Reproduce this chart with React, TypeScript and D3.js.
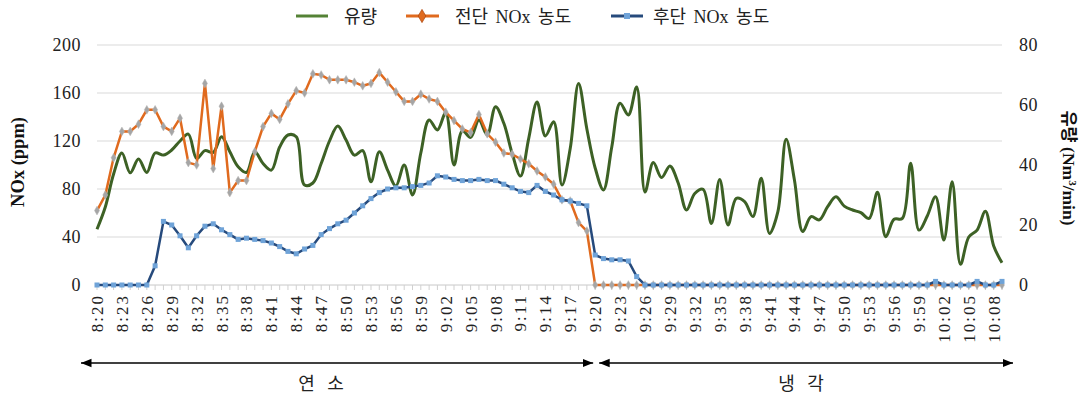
import * as d3 from "d3";
import { useEffect, useRef } from "react";

// time labels, one per minute from 8:20 to 10:09
const times: string[] = d3.range(110).map((i) => {
  const m = 20 + i;
  const h = 8 + Math.floor(m / 60);
  const mm = m % 60;
  return `${h}:${mm < 10 ? "0" + mm : mm}`;
});

// 유량 (Nm3/min), right axis
const flow = [
  18.6, 26, 37, 44, 37.4, 42, 37.5, 44, 43.3, 45,
  48, 50.3, 42.2, 44.8, 44.2, 49.4, 44.4, 39.4, 37.5, 44.4,
  40.5, 38.3, 46, 50, 49.4, 33.3, 34, 40.5, 48, 53,
  48.3, 43.3, 44.8, 34.4, 44.4, 38.3, 33, 40, 30, 44,
  55, 51.7, 57.4, 40, 51.4, 49.2, 55, 50, 59.4, 53.9,
  43.9, 36.3, 48.9, 61, 49.7, 54.4, 33.3, 45.6, 67.2, 52,
  39, 31.7, 46, 60.6, 56.7, 66, 31, 40.8, 35.8, 39.7,
  34, 25, 30.5, 31.9, 20.5, 35.2, 20, 28.9, 27.8, 22.8,
  35.6, 17.2, 24.4, 48.6, 35, 17.8, 22.8, 21.7, 26.1, 29.4,
  26.3, 25, 24.1, 22.2, 30.9, 16.1, 21.9, 22.2, 40.6, 18.3,
  23, 29.4, 15, 34.4, 6.9, 16, 18.3, 24.6, 13, 7.4,
];

// 전단 NOx 농도 (ppm)
const noxFront = [
  62, 75, 106, 128, 128, 134, 146, 146, 132, 128,
  139, 102, 100, 168, 97, 149, 77, 87, 87, 111,
  132, 143, 138, 151, 162, 160, 176, 175, 171, 171,
  171, 169, 166, 168, 177, 169, 161, 153, 153, 159,
  155, 153, 144, 137, 130, 127, 142, 126, 119, 110,
  109, 105, 101, 95, 90, 84, 71, 70, 52, 45,
  0, 0, 0, 0, 0, 0, 0, 0, 0, 0,
  0, 0, 0, 0, 0, 0, 0, 0, 0, 0,
  0, 0, 0, 0, 0, 0, 0, 0, 0, 0,
  0, 0, 0, 0, 0, 0, 0, 0, 0, 0,
  0, 0, 0, 0, 0, 0, 0, 0, 0, 0,
];

// 후단 NOx 농도 (ppm)
const noxRear = [
  0, 0, 0, 0, 0, 0, 0, 16, 53, 50,
  41, 31, 41, 49, 51, 46, 42, 38, 39, 38,
  37, 35, 32, 28, 26, 30, 33, 42, 47, 51,
  54, 60, 66, 72, 77, 80, 81, 81, 82, 83,
  85, 91, 90, 88, 87, 87, 88, 87, 87, 84,
  81, 78, 77, 83, 78, 75, 71, 70, 68, 66,
  25, 22, 21, 21, 20, 7, 0, 0, 0, 0,
  0, 0, 0, 0, 0, 0, 0, 0, 0, 0,
  0, 0, 0, 0, 0, 0, 0, 0, 0, 0,
  0, 0, 0, 0, 0, 0, 0, 0, 0, 0,
  0, 3, 0, 0, 0, 0, 3, 0, 0, 3,
];

const leftTicks = [0, 40, 80, 120, 160, 200];
const rightTicks = [0, 20, 40, 60, 80];

const serif = "'Liberation Serif', 'Noto Sans CJK KR', serif";

export default function App() {
  const svgRef = useRef<SVGSVGElement>(null);
  const width = 1088;
  const height = 409;

  useEffect(() => {
    const svg = d3.select(svgRef.current);
    svg.selectAll("*").remove();

    const x = d3.scalePoint<string>().domain(times).range([97, 1002]);
    const yL = d3.scaleLinear().domain([0, 200]).range([285, 45]);
    const yR = d3.scaleLinear().domain([0, 80]).range([285, 45]);

    // gridlines
    svg.append("g")
      .selectAll("line")
      .data(leftTicks.slice(1))
      .enter()
      .append("line")
      .attr("x1", 97)
      .attr("x2", 1002)
      .attr("y1", (d) => yL(d))
      .attr("y2", (d) => yL(d))
      .attr("stroke", "#d9d9d9")
      .attr("stroke-width", 1);

    // x axis + minor ticks
    svg.append("line")
      .attr("x1", 97).attr("x2", 1002)
      .attr("y1", yL(0)).attr("y2", yL(0))
      .attr("stroke", "#c8c8c8");
    svg.append("g")
      .selectAll("line")
      .data(times)
      .enter()
      .append("line")
      .attr("x1", (d) => x(d)!)
      .attr("x2", (d) => x(d)!)
      .attr("y1", yL(0))
      .attr("y2", yL(0) + 5)
      .attr("stroke", "#d0d0d0");

    // x tick labels, every 3 minutes
    svg.append("g")
      .selectAll("text")
      .data(times.filter((_, i) => i % 3 === 0))
      .enter()
      .append("text")
      .attr("transform", (d) => `translate(${x(d)! + 6},294) rotate(-90)`)
      .attr("text-anchor", "end")
      .attr("font-family", serif)
      .attr("font-size", 17)
      .attr("letter-spacing", 2)
      .attr("fill", "#222")
      .text((d) => d);

    // left ticks
    svg.append("g")
      .selectAll("text")
      .data(leftTicks)
      .enter()
      .append("text")
      .attr("x", 81)
      .attr("y", (d) => yL(d))
      .attr("dy", "0.35em")
      .attr("text-anchor", "end")
      .attr("font-family", serif)
      .attr("font-size", 18)
      .attr("letter-spacing", 0.5)
      .attr("fill", "#222")
      .text((d) => d);

    // right ticks
    svg.append("g")
      .selectAll("text")
      .data(rightTicks)
      .enter()
      .append("text")
      .attr("x", 1019)
      .attr("y", (d) => yR(d))
      .attr("dy", "0.35em")
      .attr("text-anchor", "start")
      .attr("font-family", serif)
      .attr("font-size", 18)
      .attr("letter-spacing", 0.5)
      .attr("fill", "#222")
      .text((d) => d);

    // axis titles
    svg.append("text")
      .attr("transform", "translate(24,162) rotate(-90)")
      .attr("text-anchor", "middle")
      .attr("font-family", serif)
      .attr("font-weight", "bold")
      .attr("font-size", 18.5)
      .attr("fill", "#111")
      .text("NOx (ppm)");

    const rt = svg.append("text")
      .attr("transform", "translate(1063,168) rotate(90)")
      .attr("text-anchor", "middle")
      .attr("font-family", serif)
      .attr("font-weight", "bold")
      .attr("font-size", 17.5)
      .attr("fill", "#111");
    rt.append("tspan").text("유량 (Nm");
    rt.append("tspan").attr("dy", -6).attr("font-size", 11).text("3");
    rt.append("tspan").attr("dy", 6).text("/min)");

    const idx = d3.range(times.length);

    // 유량 (smoothed)
    const flowLine = d3.line<number>()
      .x((i) => x(times[i])!)
      .y((i) => yR(flow[i]))
      .curve(d3.curveCatmullRom.alpha(0.5));
    svg.append("path")
      .attr("d", flowLine(idx))
      .attr("fill", "none")
      .attr("stroke", "#3d6125")
      .attr("stroke-width", 3);

    // 전단 NOx
    const frontLine = d3.line<number>()
      .x((i) => x(times[i])!)
      .y((i) => yL(noxFront[i]));
    svg.append("path")
      .attr("d", frontLine(idx))
      .attr("fill", "none")
      .attr("stroke", "#e06a1e")
      .attr("stroke-width", 2.5);
    svg.append("g")
      .selectAll("path")
      .data(idx)
      .enter()
      .append("path")
      .attr("d", d3.symbol(d3.symbolDiamond, 22)())
      .attr("transform", (i) => `translate(${x(times[i])},${yL(noxFront[i])})`)
      .attr("fill", "#a5a5a5")
      .attr("stroke", "#b4b4b4")
      .attr("stroke-width", 0.5);

    // 후단 NOx
    const rearLine = d3.line<number>()
      .x((i) => x(times[i])!)
      .y((i) => yL(noxRear[i]));
    svg.append("path")
      .attr("d", rearLine(idx))
      .attr("fill", "none")
      .attr("stroke", "#264a7c")
      .attr("stroke-width", 2.5);
    svg.append("g")
      .selectAll("rect")
      .data(idx)
      .enter()
      .append("rect")
      .attr("x", (i) => x(times[i])! - 2.5)
      .attr("y", (i) => yL(noxRear[i]) - 2.5)
      .attr("width", 5)
      .attr("height", 5)
      .attr("fill", "#6fa3d8");

    // legend
    const lg = svg.append("g").attr("font-family", serif).attr("font-size", 18)
      .attr("word-spacing", 3).attr("fill", "#222");
    lg.append("line").attr("x1", 296).attr("x2", 328).attr("y1", 16).attr("y2", 16)
      .attr("stroke", "#548235").attr("stroke-width", 3);
    lg.append("text").attr("x", 344).attr("y", 23).text("유량");
    lg.append("line").attr("x1", 406).attr("x2", 439).attr("y1", 16).attr("y2", 16)
      .attr("stroke", "#e06a1e").attr("stroke-width", 3);
    lg.append("path").attr("d", d3.symbol(d3.symbolDiamond, 50)())
      .attr("transform", "translate(422,16)")
      .attr("fill", "#e06a1e").attr("stroke", "#b04a10").attr("stroke-width", 0.8);
    lg.append("text").attr("x", 455).attr("y", 23).text("전단 NOx 농도");
    lg.append("line").attr("x1", 611).attr("x2", 643).attr("y1", 16).attr("y2", 16)
      .attr("stroke", "#264a7c").attr("stroke-width", 3);
    lg.append("rect").attr("x", 624).attr("y", 13).attr("width", 6).attr("height", 6)
      .attr("fill", "#6fa3d8");
    lg.append("text").attr("x", 653).attr("y", 23).text("후단 NOx 농도");

    // phase arrows
    const defs = svg.append("defs");
    defs.append("marker")
      .attr("id", "ah")
      .attr("viewBox", "0 0 10 10")
      .attr("refX", 10).attr("refY", 5)
      .attr("markerWidth", 7).attr("markerHeight", 7)
      .attr("orient", "auto-start-reverse")
      .append("path").attr("d", "M0,1 L10,5 L0,9 Z").attr("fill", "#000");
    const xMid = x(times[60])! + 1;
    [[81, xMid - 3], [xMid + 3, 1013]].forEach(([a, b]) => {
      svg.append("line")
        .attr("x1", a).attr("x2", b).attr("y1", 363).attr("y2", 363)
        .attr("stroke", "#000").attr("stroke-width", 1.5)
        .attr("marker-start", "url(#ah)")
        .attr("marker-end", "url(#ah)");
    });
    svg.append("text").attr("x", 321).attr("y", 390).attr("text-anchor", "middle")
      .attr("font-family", serif).attr("font-size", 18).attr("word-spacing", 8)
      .attr("fill", "#222").text("연 소");
    svg.append("text").attr("x", 801).attr("y", 390).attr("text-anchor", "middle")
      .attr("font-family", serif).attr("font-size", 18).attr("word-spacing", 8)
      .attr("fill", "#222").text("냉 각");

    return () => {};
  }, []);

  return (
    <div style={{ position: "absolute", left: 0, top: 0, width, height, background: "#fff" }}>
      <svg ref={svgRef} width={width} height={height} style={{ display: "block" }}></svg>
    </div>
  );
}
